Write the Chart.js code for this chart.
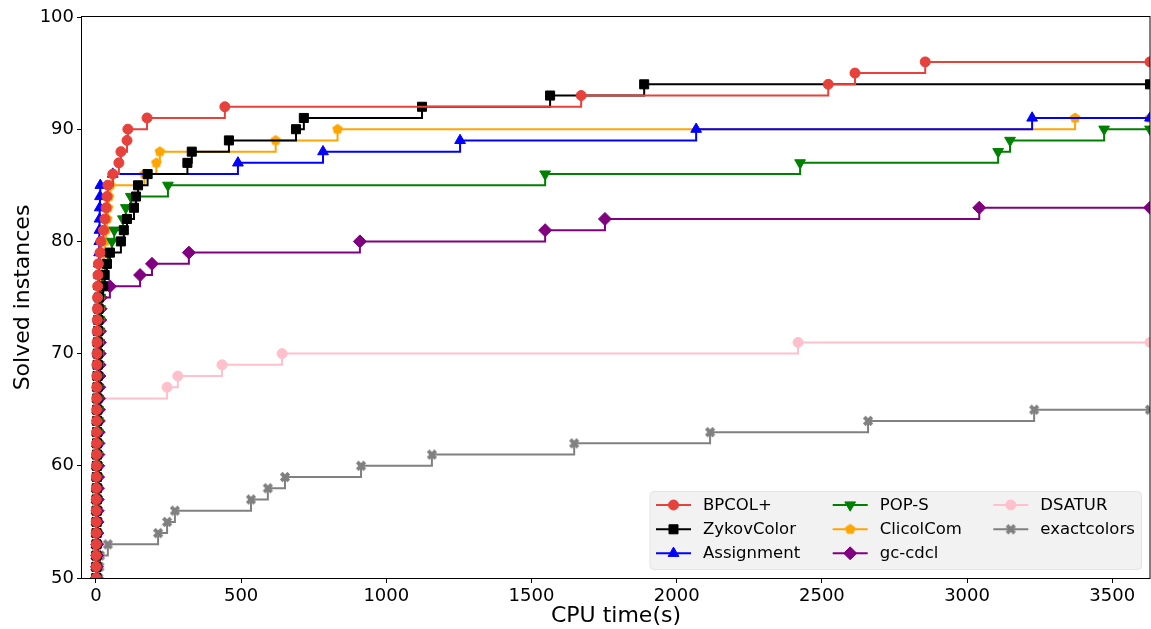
<!DOCTYPE html>
<html>
<head>
<meta charset="utf-8">
<script src="https://cdn.jsdelivr.net/npm/chart.js@4.4.0/dist/chart.umd.min.js"></script>
<style>
  html, body { margin: 0; padding: 0; background: #fff; }
  #wrap { width: 1151px; height: 629px; }
</style>
</head>
<body>
<div id="wrap"><canvas id="c" width="1151" height="629"></canvas></div>
<script>
// solved-instance curves (time in seconds, cumulative solved)
const xTickValues = [0, 500, 1000, 1500, 2000, 2500, 3000, 3500];
const yTickValues = [50, 60, 70, 80, 90, 100];
const xMin = -48, xMax = 3630;

const seriesNames = ['BPCOL+', 'ZykovColor', 'Assignment', 'POP-S', 'ClicolCom', 'gc-cdcl', 'DSATUR', 'exactcolors'];

const bpcolTimes = [0.2,0.3,0.4,0.5,0.6,0.7,0.8,0.9,1.0,1.1, 1.2,1.3,1.4,1.5,1.6,1.8,2.0,2.1,2.2,2.4,
  2.5,2.7,2.9,3.1,3.3,3.6,3.9,4.2,4.6,5.0, 5.5,6.0,7.0,8.5, 14,17,26,31,35,38,41,58,79,86,107,110,176,444,
  1671,2522,2614,2856,3630];
const bpcolSolved = [45,46,47,48,49,50,51,52,53,54, 55,56,57,58,59,60,61,62,63,64,
  65,66,67,68,69,70,71,72,73,74, 75,76,77,78, 79,80,81,82,83,84,85,86,87,88,89,90,91,92,
  93,94,95,96,96];

const zykovTimes = [0.3,0.5,0.7,0.9,1.1,1.3,1.5,1.7,1.9,2.1, 2.3,2.5,2.7,2.9,3.1,3.3,3.5,3.7,3.9,4.2,
  4.5,4.8,5.1,5.5,5.9,6.3,6.8,7.3,8.0,9.0, 10, 25,30,38,48,86,96,107,131,138,145,178,315,330,458,689,716,
  1123,1564,1888,3630];
const zykovSolved = [45,46,47,48,49,50,51,52,53,54, 55,56,57,58,59,60,61,62,63,64,
  65,66,67,68,69,70,71,72,73,74, 75, 76,77,78,79,80,81,82,83,84,85,86,87,88,89,90,91,
  92,93,94,94];

const assignTimes = [0.2,0.3,0.5,0.6,0.8,0.9,1.0,1.2,1.4,1.5, 1.7,1.9,2.1,2.3,2.5,2.7,3.0,3.3,3.6,3.9,
  4.2,4.6,5.0,5.5,6.0,6.5,7.0,7.5,8.0,8.5, 9.0,9.5,10,10.5, 11,11.5,12,12.5,13,14,15,58,489,782,1254,2067,3224,3630];
const assignSolved = [45,46,47,48,49,50,51,52,53,54, 55,56,57,58,59,60,61,62,63,64,
  65,66,67,68,69,70,71,72,73,74, 75,76,77,78, 79,80,81,82,83,84,85,86,87,88,89,90,91,91];

const popsTimes = [0.5,0.8,1.0,1.3,1.6,1.9,2.2,2.5,2.8,3.1, 3.4,3.7,4.0,4.4,4.8,5.2,5.6,6.0,6.5,7.0,
  7.5,8.0,8.6,9.2,9.8,10.5,11,12,13,14, 15, 17,23,31,42,55,63,93,103,120,248,1547,2425,3107,3148,3472,3630];
const popsSolved = [45,46,47,48,49,50,51,52,53,54, 55,56,57,58,59,60,61,62,63,64,
  65,66,67,68,69,70,71,72,73,74, 75, 76,77,78,79,80,81,82,83,84,85,86,87,88,89,90,90];

const clicolTimes = [0.3,0.5,0.7,0.9,1.1,1.3,1.5,1.7,1.9,2.1, 2.4,2.7,3.0,3.3,3.6,4.0,4.4,4.8,5.2,5.6,
  6.0,6.5,7.0,7.5,8.0,9.0,10,11,12,13, 14,16,18, 22,27,31,35,39,42,45,50,167,208,220,619,832,3372,3630];
const clicolSolved = [45,46,47,48,49,50,51,52,53,54, 55,56,57,58,59,60,61,62,63,64,
  65,66,67,68,69,70,71,72,73,74, 75,76,77, 78,79,80,81,82,83,84,85,86,87,88,89,90,91,91];

const gccdclTimes = [0.5,1,1.5,2,2.5,3,3.5,4,4.5,5, 5.5,6,6.5,7,7.5,8,8.5,9,9.5,10,
  10.5,11,11.5,12,12.5,13,13.5,14,15,16, 17, 48,152,193,320,909,1547,1753,3042,3630];
const gccdclSolved = [45,46,47,48,49,50,51,52,53,54, 55,56,57,58,59,60,61,62,63,64,
  65,66,67,68,69,70,71,72,73,74, 75, 76,77,78,79,80,81,82,83,83];

const dsaturTimes = [0.2,0.4,0.6,0.8,1.0,1.2,1.4,1.6,1.8,2.0, 2.2,2.4,2.6,2.8,3.0,3.3,3.6,3.9,4.2,4.6,
  5.0, 12,245,282,434,641,2418,3630];
const dsaturSolved = [45,46,47,48,49,50,51,52,53,54, 55,56,57,58,59,60,61,62,63,64,
  65, 66,67,68,69,70,71,71];

const exactTimes = [1,2,3,4,6, 8,12,14,41,214,245,272,534,592,651,913,1157,1647,2115,2659,3231,3630];
const exactSolved = [45,46,47,48,49, 50,51,52,53,54,55,56,57,58,59,60,61,62,63,64,65,65];

const FONT = '"DejaVu Sans", "Liberation Sans", sans-serif';

function makePentagon(color, r) {
  const c = document.createElement('canvas');
  const s = Math.ceil(r * 2 + 2);
  c.width = s; c.height = s;
  const g = c.getContext('2d');
  g.fillStyle = color;
  g.beginPath();
  for (let k = 0; k < 5; k++) {
    const a = -Math.PI / 2 + k * 2 * Math.PI / 5;
    const px = s / 2 + r * Math.cos(a), py = s / 2 + r * Math.sin(a);
    if (k) g.lineTo(px, py); else g.moveTo(px, py);
  }
  g.closePath();
  g.fill();
  return c;
}

function makeFilledX(color, d) {
  const c = document.createElement('canvas');
  const s = Math.ceil(d * 2 + 6);
  c.width = s; c.height = s;
  const g = c.getContext('2d');
  g.strokeStyle = color;
  g.lineWidth = 3.8;
  g.beginPath();
  g.moveTo(s / 2 - d, s / 2 - d); g.lineTo(s / 2 + d, s / 2 + d);
  g.moveTo(s / 2 + d, s / 2 - d); g.lineTo(s / 2 - d, s / 2 + d);
  g.stroke();
  return c;
}

const styles = [
  { color: '#e6413a', pointStyle: 'circle', radius: 5, rotation: 0 },
  { color: '#000000', pointStyle: 'rect', radius: 6.4, rotation: 0 },
  { color: '#0000ff', pointStyle: 'triangle', radius: 6.2, rotation: 0 },
  { color: '#008000', pointStyle: 'triangle', radius: 6.2, rotation: 180 },
  { color: '#ffa500', pointStyle: makePentagon('#ffa500', 5.6), radius: 5.6, rotation: 0 },
  { color: '#800080', pointStyle: 'rectRot', radius: 6.5, rotation: 0 },
  { color: '#ffc0cb', pointStyle: 'circle', radius: 5, rotation: 0 },
  { color: '#808080', pointStyle: makeFilledX('#808080', 3.8), radius: 5.5, rotation: 0 }
];

const allTimes = [bpcolTimes, zykovTimes, assignTimes, popsTimes, clicolTimes, gccdclTimes, dsaturTimes, exactTimes];
const allSolved = [bpcolSolved, zykovSolved, assignSolved, popsSolved, clicolSolved, gccdclSolved, dsaturSolved, exactSolved];

const datasets = seriesNames.map((name, i) => ({
  label: name,
  data: allTimes[i].map((t, k) => ({ x: t, y: allSolved[i][k] })),
  borderColor: styles[i].color,
  backgroundColor: styles[i].color,
  borderWidth: 2,
  stepped: true,
  fill: false,
  clip: 0,
  pointStyle: styles[i].pointStyle,
  pointRadius: styles[i].radius,
  pointRotation: styles[i].rotation,
  pointBorderWidth: 1,
  pointBackgroundColor: styles[i].color,
  pointBorderColor: styles[i].color
}));

// box around the plot area, like matplotlib spines
const framePlugin = {
  id: 'frame',
  afterDatasetsDraw(chart) {
    const { ctx, chartArea: a } = chart;
    ctx.save();
    ctx.strokeStyle = '#000';
    ctx.lineWidth = 1;
    ctx.strokeRect(a.left - 0.5, a.top - 0.5, a.right - a.left + 0.5, a.bottom - a.top + 1);
    ctx.restore();
  }
};

// legend inside the axes, lower right, 3 columns filled column by column
const legendPlugin = {
  id: 'innerLegend',
  afterDraw(chart) {
    const ctx = chart.ctx;
    const box = { x: 650, y: 491.5, w: 491.5, h: 78 };
    const rows = [505, 529.3, 553.3];
    const cols = [656, 832.7, 993.3];
    ctx.save();
    ctx.fillStyle = '#f2f2f2';
    ctx.strokeStyle = '#e3e3e3';
    ctx.lineWidth = 1;
    ctx.beginPath();
    if (ctx.roundRect) ctx.roundRect(box.x, box.y, box.w, box.h, 4); else ctx.rect(box.x, box.y, box.w, box.h);
    ctx.fill();
    ctx.stroke();
    ctx.font = '16.5px ' + FONT;
    ctx.textBaseline = 'middle';
    ctx.textAlign = 'left';
    seriesNames.forEach((name, i) => {
      const cx = cols[Math.floor(i / 3)];
      const cy = rows[i % 3];
      const st = styles[i];
      ctx.strokeStyle = st.color;
      ctx.fillStyle = st.color;
      ctx.lineWidth = 2;
      ctx.beginPath();
      ctx.moveTo(cx, cy);
      ctx.lineTo(cx + 35, cy);
      ctx.stroke();
      ctx.lineWidth = 1;
      if (Chart.helpers && Chart.helpers.drawPoint) {
        Chart.helpers.drawPoint(ctx, { pointStyle: st.pointStyle, radius: st.radius, rotation: st.rotation, borderWidth: 1 }, cx + 17.5, cy);
      } else {
        ctx.beginPath(); ctx.arc(cx + 17.5, cy, 5, 0, Math.PI * 2); ctx.fill();
      }
      ctx.fillStyle = '#000';
      ctx.fillText(name, cx + 47, cy + 0.5);
    });
    ctx.restore();
  }
};

new Chart(document.getElementById('c'), {
  type: 'line',
  data: { datasets },
  options: {
    responsive: false,
    devicePixelRatio: 1,
    animation: false,
    layout: { autoPadding: false, padding: { top: 17, right: 1, left: 0, bottom: 0 } },
    plugins: { legend: { display: false }, tooltip: { enabled: false } },
    elements: { line: { tension: 0 } },
    scales: {
      x: {
        type: 'linear',
        min: xMin,
        max: xMax,
        afterBuildTicks: (s) => { s.ticks = xTickValues.map(v => ({ value: v })); },
        afterFit: (s) => { s.height = 51; s.paddingLeft = 0; s.paddingRight = 0; },
        ticks: { autoSkip: false, maxRotation: 0, padding: 3, color: '#000', font: { family: FONT, size: 18 },
          callback: (v) => String(v) },
        grid: { drawOnChartArea: false, drawTicks: true, tickLength: 5, color: '#000', lineWidth: 1 },
        border: { display: false },
        title: { display: true, text: 'CPU time(s)', color: '#000', font: { family: FONT, size: 22 }, padding: { top: 0, bottom: 0 } }
      },
      y: {
        type: 'linear',
        min: 50,
        max: 100,
        afterBuildTicks: (s) => { s.ticks = yTickValues.map(v => ({ value: v })); },
        afterFit: (s) => { s.width = 82; s.paddingTop = 0; s.paddingBottom = 0; },
        ticks: { autoSkip: false, padding: 3, color: '#000', font: { family: FONT, size: 18 },
          callback: (v) => String(v) },
        grid: { drawOnChartArea: false, drawTicks: true, tickLength: 5, color: '#000', lineWidth: 1 },
        border: { display: false },
        title: { display: true, text: 'Solved instances', color: '#000', font: { family: FONT, size: 22 }, padding: { top: 10, bottom: 0 } }
      }
    }
  },
  plugins: [framePlugin, legendPlugin]
});
</script>
</body>
</html>
